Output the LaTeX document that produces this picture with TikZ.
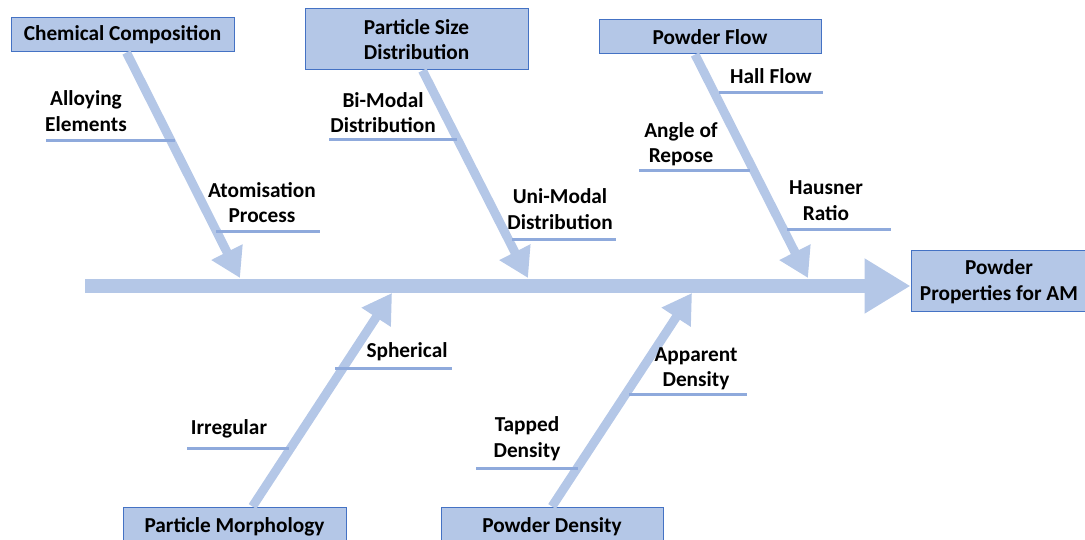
\documentclass[tikz,border=0pt]{standalone}
\usepackage{fontspec}
\setmainfont{Carlito}
\usetikzlibrary{arrows.meta,positioning}

\definecolor{boneblue}{HTML}{B4C7E7}
\definecolor{ribblue}{HTML}{8FAADC}
\definecolor{edgeblue}{HTML}{4472C4}

\begin{document}
\begin{tikzpicture}[
      x=1pt, y=-1pt,
      font=\bfseries\fontsize{21.3}{25.5}\selectfont,
      cause/.style={
          rectangle,
          draw=edgeblue,
          line width=1pt,
          fill=boneblue,
          align=center,
          inner sep=0pt,
          minimum width=223pt,
          minimum height=34pt
        },
      sublabel/.style={align=center, inner sep=0pt},
      bone/.style={draw=boneblue, line width=9pt, -{Triangle[width=33pt,length=29pt]}},
      spine/.style={draw=boneblue, line width=14pt, -{Triangle[width=52pt,length=46pt]}},
      rib/.style={draw=ribblue, line width=3pt}
    ]
    \useasboundingbox (0,0) rectangle (1085,540);

    % effect and main spine
    \node[cause, minimum width=176pt, minimum height=61pt] (effect) at (999,281.5) {Powder\\Properties for AM};
    \coordinate (tail) at (85,286);
    \draw[spine] (tail) -- (tail -| effect.west);

    % cause boxes
    \node[cause] (chem) at (122.5,35) {Chemical Composition};
    \node[cause, minimum height=61pt] (psd) at (416.5,39.5) {Particle Size\\Distribution};
    \node[cause, minimum width=222pt] (flow) at (710,37) {Powder Flow};
    \node[cause, minimum height=40pt] (morph) at (234.5,527) {Particle Morphology};
    \node[cause, minimum width=222pt, minimum height=40pt] (dens) at (552,527) {Powder Density};

    % where the bones meet the spine
    \coordinate (tchem) at (240,278);
    \coordinate (tpsd) at (528,278);
    \coordinate (tflow) at (808,278);
    \coordinate (tmorph) at (392,293);
    \coordinate (tdens) at (692,293);

    \draw[bone] ([xshift=4pt]chem.south) -- (tchem);
    \draw[bone] ([xshift=6pt]psd.south) -- (tpsd);
    \draw[bone] ([xshift=-15pt]flow.south) -- (tflow);
    \draw[bone] ([xshift=18pt]morph.north) -- (tmorph);
    \draw[bone] (dens.north) -- (tdens);

    % sub-causes, top row
    \node[sublabel] (alloy) at (86,111) {Alloying\\Elements};
    \draw[rib] (46,141) -- (175,141);
    \node[sublabel] (atom) at (262,202.5) {Atomisation\\Process};
    \draw[rib] (216,232) -- (320,232);

    \node[sublabel] (bimodal) at (383,112.5) {Bi-Modal\\Distribution};
    \draw[rib] (329,140) -- (457,140);
    \node[sublabel] (unimodal) at (560,209) {Uni-Modal\\Distribution};
    \draw[rib] (512,240) -- (616,240);

    \node[sublabel] (hall) at (771,76) {Hall Flow};
    \draw[rib] (719,93) -- (823,93);
    \node[sublabel] (repose) at (681,144) {Angle of\\Repose};
    \draw[rib] (639,171) -- (750,171);
    \node[sublabel] (hausner) at (826,200.5) {Hausner\\Ratio};
    \draw[rib] (787,230) -- (891,230);

    % sub-causes, bottom row
    \node[sublabel] (spher) at (407,352) {Spherical};
    \draw[rib] (335,368) -- (452,368);
    \node[sublabel] (irreg) at (229,429) {Irregular};
    \draw[rib] (187,448) -- (289,448);

    \node[sublabel] (apparent) at (696,369) {Apparent\\Density};
    \draw[rib] (629,394) -- (747,394);
    \node[sublabel] (tapped) at (527,438.5) {Tapped\\Density};
    \draw[rib] (476,468) -- (578,468);
  \end{tikzpicture}
\end{document}
